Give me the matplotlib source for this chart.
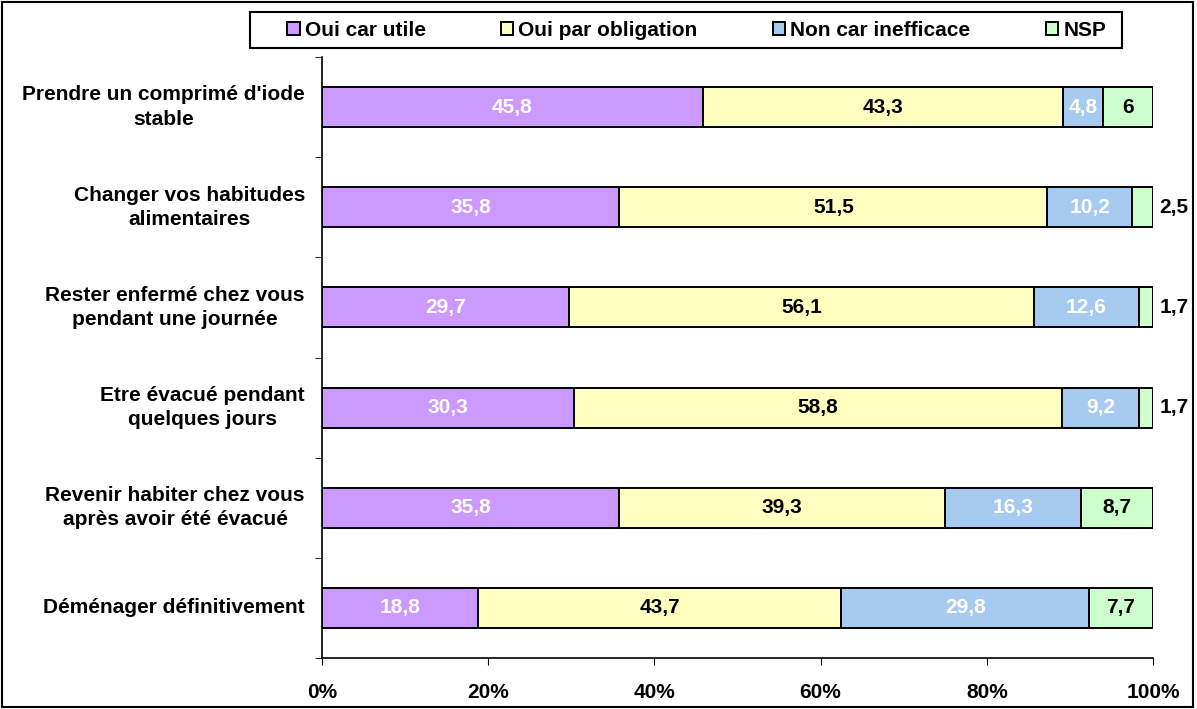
import matplotlib.pyplot as plt
import numpy as np

plt.rcParams["font.family"] = ["Liberation Sans", "DejaVu Sans"]
plt.rcParams["font.weight"] = "bold"

categories = [
    "Prendre un comprimé d'iode\nstable",
    "Changer vos habitudes\nalimentaires",
    "Rester enfermé chez vous\npendant une journée",
    "Etre évacué pendant\nquelques jours",
    "Revenir habiter chez vous\naprès avoir été évacué",
    "Déménager définitivement",
]
series_names = ["Oui car utile", "Oui par obligation", "Non car inefficace", "NSP"]
oui_utile = [45.8, 35.8, 29.7, 30.3, 35.8, 18.8]
oui_oblig = [43.3, 51.5, 56.1, 58.8, 39.3, 43.7]
non_ineff = [4.8, 10.2, 12.6, 9.2, 16.3, 29.8]
nsp = [6, 2.5, 1.7, 1.7, 8.7, 7.7]

colors = ["#CC99FF", "#FFFFC0", "#A6CAF0", "#CCFFCC"]
text_colors = ["white", "black", "white", "black"]
fs = 15

data = np.array([oui_utile, oui_oblig, non_ineff, nsp])
totals = data.sum(axis=0)
pct = data / totals * 100

fig = plt.figure(figsize=(11.97, 7.09), dpi=100)
ax = fig.add_axes([0.269, 0.0719, 0.6942, 0.8477])

y = np.arange(len(categories))
left = np.zeros(len(categories))
for i, name in enumerate(series_names):
    ax.barh(y, pct[i], left=left, height=0.4, color=colors[i],
            edgecolor="black", linewidth=1.4, label=name)
    for j in range(len(categories)):
        val = data[i, j]
        lab = ("%g" % val).replace(".", ",")
        if val < 3:
            ax.text(100.8, y[j], lab, ha="left", va="center",
                    fontsize=fs, fontweight="bold", color="black", clip_on=False)
        else:
            ax.text(left[j] + pct[i, j] / 2, y[j], lab, ha="center", va="center",
                    fontsize=fs, fontweight="bold", color=text_colors[i])
    left += pct[i]

ax.set_xlim(0, 100)
ax.set_ylim(len(categories) - 0.5, -0.5)

# category labels: block right aligned, lines centred
ax.set_yticks(y)
ax.set_yticklabels([""] * len(categories))
ax.tick_params(axis="y", length=0)
trans = ax.get_yaxis_transform()
for j, cat in enumerate(categories):
    ax.text(-0.0205, y[j], cat, transform=trans, ha="right", va="center",
            multialignment="center", linespacing=1.35, fontsize=fs, fontweight="bold")

ax.set_yticks(np.arange(-0.5, len(categories)), minor=True)
ax.tick_params(axis="y", which="minor", length=5, direction="out")
ax.set_xticks(np.arange(0, 101, 20))
ax.set_xticklabels(["%d%%" % v for v in range(0, 101, 20)], fontsize=fs, fontweight="bold")
ax.tick_params(axis="x", length=5, direction="out", pad=13)
for s in ["top", "right"]:
    ax.spines[s].set_visible(False)
ax.spines["left"].set_linewidth(1.2)
ax.spines["bottom"].set_linewidth(1.2)

leg = fig.legend(loc="center left", bbox_to_anchor=(287 / 1197, 1 - 30 / 709), ncol=4,
                 frameon=False, fontsize=fs,
                 handlelength=0.6, handleheight=0.6, handletextpad=0.25,
                 columnspacing=3.6, borderpad=0, borderaxespad=0)

fig.patches.append(plt.Rectangle((250 / 1197, 1 - 48 / 709), 872 / 1197, 36 / 709,
                                 transform=fig.transFigure, fill=False,
                                 edgecolor="black", linewidth=1.5))
fig.patches.append(plt.Rectangle((0.002, 0.003), 0.995, 0.994, transform=fig.transFigure,
                                 fill=False, edgecolor="black", linewidth=1.5))

fig.savefig("out.png", dpi=100)
